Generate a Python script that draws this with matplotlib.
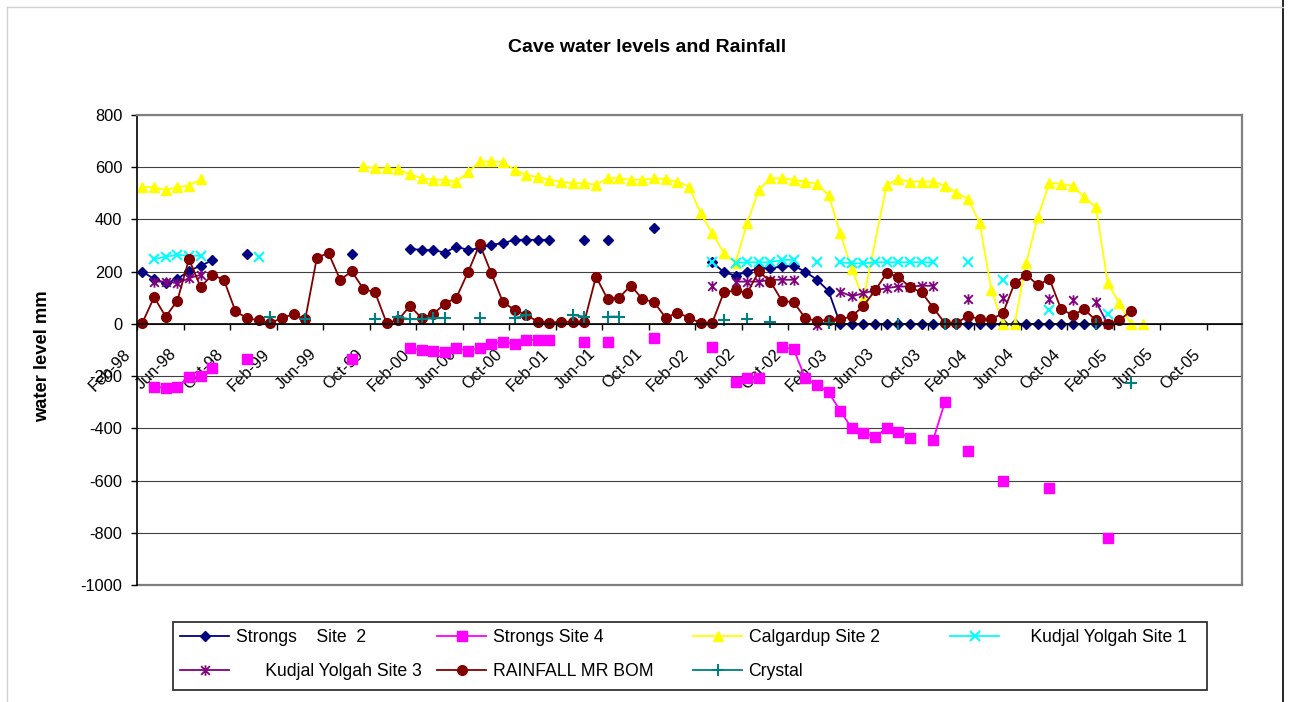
import matplotlib
matplotlib.use("Agg")
import matplotlib.pyplot as plt
import numpy as np
from matplotlib.path import Path
from matplotlib.lines import Line2D
from matplotlib.patches import Rectangle
from matplotlib.transforms import ScaledTranslation

plt.rcParams['font.family'] = ['Liberation Sans', 'DejaVu Sans']
plt.rcParams['axes.unicode_minus'] = False

# months counted from Feb-98 (0 = Feb-98), readings taken around mid month
tick_months = [0, 4, 8, 12, 16, 20, 24, 28, 32, 36, 40, 44, 48, 52, 56, 60,
               64, 68, 72, 76, 80, 84, 88, 92]
tick_labels = ['Feb-98', 'Jun-98', 'Oct-98', 'Feb-99', 'Jun-99', 'Oct-99',
               'Feb-00', 'Jun-00', 'Oct-00', 'Feb-01', 'Jun-01', 'Oct-01',
               'Feb-02', 'Jun-02', 'Oct-02', 'Feb-03', 'Jun-03', 'Oct-03',
               'Feb-04', 'Jun-04', 'Oct-04', 'Feb-05', 'Jun-05', 'Oct-05']

s2_month = [0, 1, 2, 3, 4, 5, 6, 9, 18, 23, 24, 25, 26, 27, 28, 29, 30, 31, 32,
            33, 34, 35, 38, 40, 44, 49, 50, 51, 52, 53, 54, 55, 56, 57, 58, 59,
            60, 61, 62, 63, 64, 65, 66, 67, 68, 69, 70, 71, 72, 73, 74, 75, 76,
            77, 78, 79, 80, 81, 82]
s2_level = [200, 172, 156, 172, 203, 223, 243, 268, 268, 288, 283, 283, 273,
            296, 283, 290, 303, 309, 322, 322, 322, 322, 322, 322, 367, 236,
            198, 185, 200, 213, 213, 220, 222, 200, 169, 126,
            0, 0, 0, 0, 0, 0, 0, 0, 0, 0, 0, 0, 0, 0, 0, 0, 0, 0, 0, 0, 0, 0, 0]

s4_month = [1, 2, 3, 4, 5, 6, 9, 18, 23, 24, 25, 26, 27, 28, 29, 30, 31, 32,
            33, 34, 35, 38, 40, 44, 49, 51, 52, 53, 55, 56, 57, 58, 59, 60, 61,
            62, 63, 64, 65, 66, 68, 69, 71, 74, 78, 83]
s4_level = [-240, -246, -240, -204, -200, -170, -135, -135, -93, -100, -102,
            -106, -93, -102, -93, -77, -68, -77, -61, -61, -61, -69, -69, -55,
            -88, -221, -208, -208, -89, -97, -208, -234, -262, -332, -400,
            -419, -432, -400, -413, -438, -444, -300, -485, -602, -630, -821]

calg_month = [0, 1, 2, 3, 4, 5, 19, 20, 21, 22, 23, 24, 25, 26, 27, 28, 29, 30,
              31, 32, 33, 34, 35, 36, 37, 38, 39, 40, 41, 42, 43, 44, 45, 46,
              47, 48, 49, 50, 51, 52, 53, 54, 55, 56, 57, 58, 59, 60, 61, 62,
              64, 65, 66, 67, 68, 69, 70, 71, 72, 73, 74, 75, 76, 77, 78, 79,
              80, 81, 82, 83, 84, 85, 86]
calg_level = [524, 524, 513, 524, 530, 554, 603, 596, 596, 592, 573, 558, 552,
              552, 545, 580, 622, 622, 619, 590, 571, 562, 552, 545, 539, 539,
              533, 558, 558, 552, 552, 558, 554, 545, 526, 424, 347, 271, 233,
              386, 513, 558, 558, 552, 545, 536, 494, 347, 210, 95, 533, 554,
              545, 545, 545, 529, 503, 478, 386, 131, 0, 0, 233, 409, 541, 536,
              529, 485, 447, 158, 79, 0, 0]

ky1_month = [1, 2, 3, 4, 5, 10, 49, 51, 52, 53, 54, 55, 56, 58, 60, 61, 62, 63,
             64, 65, 66, 67, 68, 71, 74, 78, 83]
ky1_level = [248, 258, 264, 261, 261, 256, 236, 233, 236, 236, 236, 245, 245,
             236, 236, 232, 232, 236, 236, 236, 236, 236, 236, 236, 169, 52, 38]

ky3_month = [1, 2, 3, 4, 5, 49, 51, 52, 53, 54, 55, 56, 58, 60, 61, 62, 63, 64,
             65, 66, 67, 68, 71, 74, 78, 80, 82, 83]
ky3_level = [162, 162, 156, 175, 188, 147, 162, 162, 162, 169, 169, 169, -5,
             124, 105, 118, 128, 137, 143, 143, 146, 146, 97, 100, 97, 90, 85, 0]

rain_month = list(range(0, 86))
rain_mm = [5, 102, 28, 89, 248, 141, 188, 169, 48, 22,
           14, 2, 24, 36, 18, 254, 271, 169, 201, 134,
           121, 3, 15, 69, 22, 38, 77, 101, 198, 305,
           194, 83, 54, 34, 9, 5, 8, 8, 8, 181,
           95, 101, 147, 95, 83, 23, 43, 24, 3, 5,
           121, 128, 118, 201, 162, 88, 83, 22, 11, 16,
           17, 29, 69, 128, 194, 181, 140, 121, 62, 3,
           3, 31, 18, 18, 41, 156, 188, 149, 172, 56,
           34, 56, 13, 0, 13, 50]

crys_month = [11, 14, 20, 22, 23, 24, 25, 26, 29, 32, 33, 37, 38, 40, 41, 50,
              52, 54, 59, 65, 69, 70, 82, 85]
crys_level = [25, 18, 18, 26, 18, 18, 22, 22, 22, 22, 34, 34, 28, 28, 28, 13,
              18, 9, 5, 0, 0, 0, 0, -226]


def gapped(months, levels, max_step=1):
    # blank cell -> break in the line, like excel does
    xs, ys = [], []
    for i in range(len(months)):
        if i > 0 and months[i] - months[i - 1] > max_step:
            xs.append(np.nan)
            ys.append(np.nan)
        xs.append(months[i] + 0.47)
        ys.append(levels[i])
    return xs, ys


star = Path([(-1, -1), (1, 1), (-1, 1), (1, -1), (0, -1.2), (0, 1.2)],
            [Path.MOVETO, Path.LINETO, Path.MOVETO, Path.LINETO, Path.MOVETO, Path.LINETO])

W, H = 1289, 702
fig = plt.figure(figsize=(W / 100, H / 100), dpi=100)
ax = fig.add_axes([137 / W, 1 - 585 / H, (1241.7 - 137) / W, 470 / H])

lw = 1.3
x, y = gapped(s2_month, s2_level)
h1, = ax.plot(x, y, color='#000080', lw=lw, marker='D', ms=5.0, mec='#000080')
x, y = gapped(s4_month, s4_level)
h2, = ax.plot(x, y, color='#FF00FF', lw=lw, marker='s', ms=6.5, mec='#FF00FF')
x, y = gapped(calg_month, calg_level, max_step=2)
h3, = ax.plot(x, y, color='#FFFF00', lw=lw, marker='^', ms=7.5, mec='#FFFF00')
x, y = gapped(ky1_month, ky1_level)
h4, = ax.plot(x, y, color='#00FFFF', lw=lw, marker='x', ms=7, mew=1.5)
x, y = gapped(ky3_month, ky3_level)
h5, = ax.plot(x, y, color='#800080', lw=lw, marker=star, ms=7.5, mew=1.3)
x, y = gapped(rain_month, rain_mm)
h6, = ax.plot(x, y, color='#800000', lw=lw, marker='o', ms=7, mec='#800000')
x, y = gapped(crys_month, crys_level)
h7, = ax.plot(x, y, color='#008080', lw=lw, marker='+', ms=8, mew=1.5)

# x axis sits on zero, set this before the ticks (it resets them)
ax.spines['bottom'].set_position(('data', 0))
ax.spines['bottom'].set_linewidth(1.2)
ax.spines['left'].set_linewidth(1.2)
for s in ['top', 'right']:
    ax.spines[s].set_color('#808080')
    ax.spines[s].set_linewidth(1.6)

ax.set_xlim(0, 95)
ax.set_ylim(-1000, 800)
ax.set_yticks(np.arange(-1000, 801, 200))
ax.set_xticks(tick_months)
ax.set_xticklabels(tick_labels)
ax.tick_params(axis='x', direction='out', length=4, width=1, pad=16, labelsize=11.8)
ax.tick_params(axis='y', direction='out', length=4, width=1, pad=6.5, labelsize=11.8)
for lab in ax.get_xticklabels():
    lab.set_rotation(45)
    lab.set_ha('right')
    lab.set_va('center')
    lab.set_rotation_mode('anchor')
    lab.set_transform(lab.get_transform() + ScaledTranslation(-0.09, 0, fig.dpi_scale_trans))

ax.axhline(-1000, color='#808080', lw=1.6, clip_on=False, zorder=0)
ax.yaxis.grid(True, color='#404040', lw=0.8)
ax.set_axisbelow(True)

fig.text(647 / W, 1 - 47 / H, 'Cave water levels and Rainfall', ha='center',
         va='center', fontsize=14, fontweight='bold')
fig.text(43 / W, 1 - 356 / H, 'water level mm', rotation=90, ha='center',
         va='center', fontsize=13.2, fontweight='bold')

# legend: excel style, 4 equal columns in one box
fig.add_artist(Rectangle((173 / W, 1 - 690 / H), 1034 / W, 68 / H,
                         transform=fig.transFigure, fc='white', ec='#333333', lw=1.3))
cols = [([h1, h5], ['Strongs    Site  2', '      Kudjal Yolgah Site 3']),
        ([h2, h6], ['Strongs Site 4', 'RAINFALL MR BOM']),
        ([h3, h7], ['Calgardup Site 2', 'Crystal']),
        ([h4], ['     Kudjal Yolgah Site 1'])]
col_x = [180, 437, 693, 950]
for (hs, labs), cx in zip(cols, col_x):
    fig.legend(hs, labs, loc='upper left', bbox_to_anchor=(cx / W, 1 - 629 / H),
               frameon=False, borderpad=0, borderaxespad=0, handlelength=2.8,
               handletextpad=0.35, labelspacing=0.98, fontsize=12.7, numpoints=1)

fig.add_artist(Line2D([1283 / W, 1283 / W], [0, 1], transform=fig.transFigure,
                      color='black', lw=1.2))
fig.add_artist(Line2D([7 / W, 7 / W], [0, 1 - 7 / H], transform=fig.transFigure,
                      color='#d0d0d0', lw=1))
fig.add_artist(Line2D([7 / W, 1283 / W], [1 - 7 / H, 1 - 7 / H], transform=fig.transFigure,
                      color='#d0d0d0', lw=1))

fig.savefig('out.png', dpi=100)
